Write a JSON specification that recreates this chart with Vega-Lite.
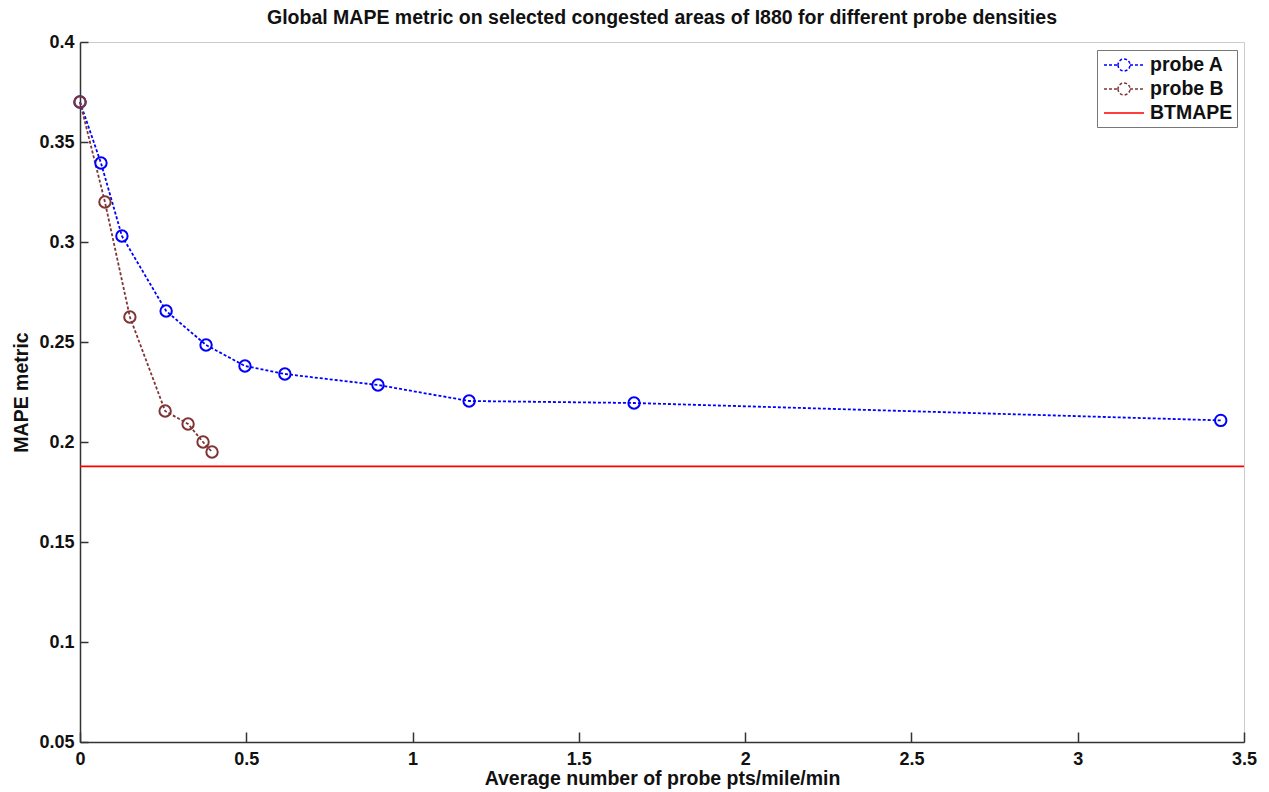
{
  "$schema": "https://vega.github.io/schema/vega-lite/v6.json",
  "autosize": "none",
  "width": 1164,
  "height": 700,
  "padding": {"left": 80, "top": 42, "right": 25, "bottom": 50},
  "background": "white",
  "title": {
    "text": "Global MAPE metric on selected congested areas of I880 for different probe densities",
    "font": "Liberation Sans",
    "fontSize": 19.5,
    "fontWeight": "bold",
    "color": "#111",
    "anchor": "middle",
    "offset": 5
  },
  "config": {
    "view": {"stroke": "#cccccc", "strokeWidth": 1},
    "axis": {
      "labelFont": "Liberation Sans",
      "labelFontWeight": "bold",
      "labelFontSize": 18,
      "labelColor": "#111",
      "titleFont": "Liberation Sans",
      "titleFontWeight": "bold",
      "titleFontSize": 19.5,
      "titleColor": "#111",
      "domainColor": "#333",
      "domainWidth": 1.5,
      "tickColor": "#333",
      "tickWidth": 1.5,
      "grid": false,
      "labelFlush": false
    }
  },
  "data": {
    "values": [
      {"series": "probe A", "x": 0, "y": 0.37},
      {"series": "probe A", "x": 0.063, "y": 0.3395},
      {"series": "probe A", "x": 0.126, "y": 0.303},
      {"series": "probe A", "x": 0.259, "y": 0.2655},
      {"series": "probe A", "x": 0.379, "y": 0.2485},
      {"series": "probe A", "x": 0.496, "y": 0.238},
      {"series": "probe A", "x": 0.616, "y": 0.234},
      {"series": "probe A", "x": 0.896, "y": 0.2285},
      {"series": "probe A", "x": 1.17, "y": 0.2205},
      {"series": "probe A", "x": 1.666, "y": 0.2195},
      {"series": "probe A", "x": 3.43, "y": 0.2108},
      {"series": "probe B", "x": 0, "y": 0.37},
      {"series": "probe B", "x": 0.075, "y": 0.32},
      {"series": "probe B", "x": 0.15, "y": 0.2625},
      {"series": "probe B", "x": 0.256, "y": 0.2155},
      {"series": "probe B", "x": 0.325, "y": 0.209},
      {"series": "probe B", "x": 0.37, "y": 0.2},
      {"series": "probe B", "x": 0.397, "y": 0.195},
      {"series": "BTMAPE", "x": 0, "y": 0.1878},
      {"series": "BTMAPE", "x": 3.5, "y": 0.1878}
    ]
  },
  "encoding": {
    "x": {
      "field": "x", "type": "quantitative",
      "scale": {"domain": [0, 3.5], "nice": false, "zero": false},
      "axis": {
        "title": "Average number of probe pts/mile/min",
        "values": [0, 0.5, 1, 1.5, 2, 2.5, 3, 3.5],
        "format": "~g",
        "tickSize": -10,
        "labelPadding": 18,
        "titlePadding": 1
      }
    },
    "y": {
      "field": "y", "type": "quantitative",
      "scale": {"domain": [0.05, 0.4], "nice": false, "zero": false},
      "axis": {
        "title": "MAPE metric",
        "values": [0.05, 0.1, 0.15, 0.2, 0.25, 0.3, 0.35, 0.4],
        "format": "~g",
        "tickSize": -8,
        "labelPadding": 14,
        "titlePadding": 7
      }
    },
    "color": {
      "field": "series", "type": "nominal",
      "scale": {"domain": ["probe A", "probe B", "BTMAPE"], "range": ["#0000ff", "#7f3535", "#ff0000"]},
      "legend": {
        "title": null,
        "orient": "none",
        "legendX": 1017,
        "legendY": 8,
        "strokeColor": "#777",
        "fillColor": "white",
        "padding": 4,
        "labelFont": "Liberation Sans",
        "labelFontWeight": "bold",
        "labelFontSize": 19.5,
        "labelColor": "#111",
        "symbolSize": 400,
        "symbolStrokeWidth": 1.5,
        "symbolType": "M-2,0H-0.6M0.6,0H2M-0.6,0A0.6,0.6,0,1,0,0.6,0A0.6,0.6,0,1,0,-0.6,0",
        "symbolOffset": 12,
        "rowPadding": 3,
        "labelOffset": 15,
        "encode": {
          "symbols": {
            "update": {
              "shape": {"signal": "datum.value === 'BTMAPE' ? 'M-2,0H2' : 'M-2,0H-0.6M0.6,0H2M-0.6,0A0.6,0.6,0,1,0,0.6,0A0.6,0.6,0,1,0,-0.6,0'"},
              "strokeDash": {"signal": "datum.value === 'BTMAPE' ? [] : [3,2]"},
              "fill": {"value": "transparent"}
            }
          }
        }
      }
    }
  },
  "layer": [
    {
      "mark": {"type": "line", "strokeWidth": 1.8},
      "encoding": {
        "strokeDash": {
          "field": "series", "type": "nominal",
          "scale": {"domain": ["probe A", "probe B", "BTMAPE"], "range": [[3, 2], [3, 2], [1, 0]]},
          "legend": null
        }
      }
    },
    {
      "transform": [{"filter": "datum.series !== 'BTMAPE'"}],
      "mark": {"type": "point", "shape": "circle", "filled": false, "size": 130, "strokeWidth": 2, "opacity": 1}
    }
  ]
}
